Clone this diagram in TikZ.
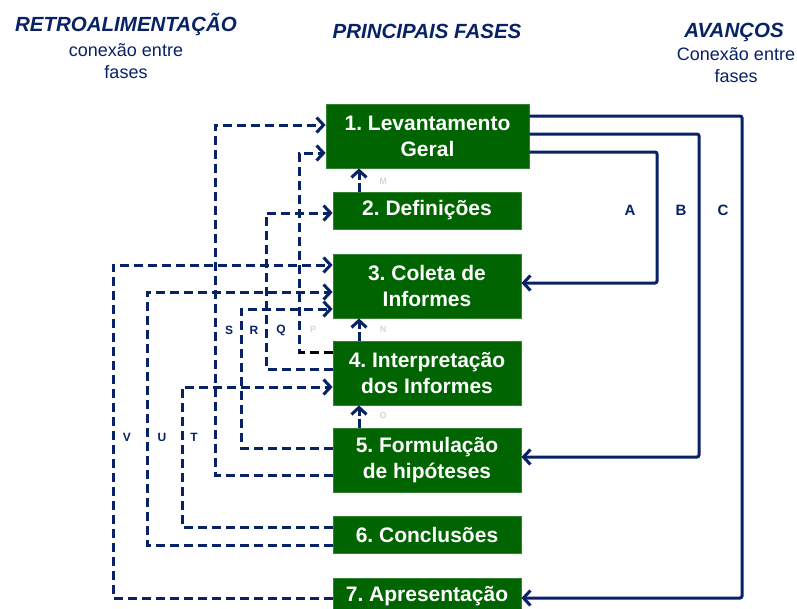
\documentclass[tikz,border=0pt]{standalone}
\usepackage{fontspec}
\setmainfont{Liberation Sans}
\usetikzlibrary{arrows.meta}
\definecolor{navy}{RGB}{8,34,102}
\definecolor{dgreen}{RGB}{0,100,0}
\frenchspacing
\begin{document}
\begin{tikzpicture}[x=1pt,y=-1pt,
  >={Straight Barb[length=7pt,width=15pt]},
  box/.style={fill=dgreen, draw=dgreen!80!white, line width=0.8pt, text=white,
    font=\fontsize{21}{26}\selectfont\bfseries, align=center, inner sep=0pt,
    minimum width=188pt, minimum height=#1},
  fb/.style={navy, line width=3pt, dash pattern=on 9pt off 5pt, ->},
  fw/.style={navy, line width=3pt, rounded corners=2pt, ->},
  up/.style={navy, line width=3pt, dash pattern=on 9pt off 3pt, ->},
  lab/.style={navy, font=\fontsize{12}{14}\selectfont\bfseries},
  labb/.style={navy, font=\fontsize{15}{17}\selectfont\bfseries},
  faint/.style={black!16, font=\fontsize{9}{11}\selectfont\bfseries},
  head/.style={navy, font=\fontsize{20.5}{24}\selectfont\bfseries\itshape, anchor=base},
  sub/.style={navy, font=\fontsize{18}{22}\selectfont, anchor=base}
]
\fill[white] (0,0) rectangle (797,608);
\useasboundingbox (0,0) rectangle (797,608);

% headings
\node[head] (h1) at (126,31) {RETROALIMENTAÇÃO};
\node[sub] (h1a) at (126,56) {conexão entre};
\node[sub] (h1b) at (126,78) {fases};
\node[head] (h2) at (427,38) {PRINCIPAIS FASES};
\node[head] (h3) at (734,37) {AVANÇOS};
\node[sub] (h3a) at (736,60) {Conexão entre};
\node[sub] (h3b) at (736,82) {fases};

% boxes
\node[box=64pt, minimum width=203pt] (b1) at (427.5,136) {1. Levantamento\\Geral};
\node[box=37pt] (b2) at (427,210.5) {2. Definições};
\node[box=64pt] (b3) at (427,286) {3. Coleta de\\Informes};
\node[box=64pt] (b4) at (427,373) {4. Interpretação\\dos Informes};
\node[box=64pt] (b5) at (427,460) {5. Formulação\\de hipóteses};
\node[box=37pt] (b6) at (427,534.5) {6. Conclusões};
\node[box=37pt] (b7) at (427,596.5) {7. Apresentação};

% column coordinates
\coordinate (cV) at (113,0);
\coordinate (cU) at (147,0);
\coordinate (cT) at (182,0);
\coordinate (cS) at (215,0);
\coordinate (cR) at (241,0);
\coordinate (cQ) at (266,0);
\coordinate (cP) at (299,0);
\coordinate (cA) at (657,0);
\coordinate (cB) at (699,0);
\coordinate (cC) at (742,0);
\coordinate (cUp) at (359,0);

% end points
\coordinate (e51a) at ([yshift=-15pt]b5.west);
\coordinate (e51b) at ([yshift=11pt]b1.west);
\coordinate (e41a) at ([yshift=21pt]b4.west);
\coordinate (e41b) at ([yshift=-17pt]b1.west);
\coordinate (e42a) at ([yshift=4pt]b4.west);
\coordinate (e42b) at ([yshift=-2.5pt]b2.west);
\coordinate (e73a) at ([yshift=-1.5pt]b7.west);
\coordinate (e73b) at ([yshift=21pt]b3.west);
\coordinate (e63a) at ([yshift=-10.5pt]b6.west);
\coordinate (e63b) at ([yshift=-6pt]b3.west);
\coordinate (e53a) at ([yshift=12pt]b5.west);
\coordinate (e53b) at ([yshift=-23pt]b3.west);
\coordinate (e64a) at ([yshift=7.5pt]b6.west);
\coordinate (e64b) at ([yshift=-14pt]b4.west);

\coordinate (eAa) at ([yshift=-16pt]b1.east);
\coordinate (eAb) at ([yshift=3pt]b3.east);
\coordinate (eBa) at ([yshift=2pt]b1.east);
\coordinate (eBb) at ([yshift=3pt]b5.east);
\coordinate (eCa) at ([yshift=20pt]b1.east);
\coordinate (eCb) at ([yshift=-1.5pt]b7.east);

% feedback (dashed) connectors
\draw[fb] (e73a) -| (cV |- e73b) -- (e73b);
\draw[fb] (e63a) -| (cU |- e63b) -- (e63b);
\draw[fb] (e64a) -| (cT |- e64b) -- (e64b);
\draw[fb] (e51a) -| (cS |- e51b) -- (e51b);
\draw[fb] (e53a) -| (cR |- e53b) -- (e53b);
\draw[fb] (e42a) -| (cQ |- e42b) -- (e42b);
\draw[fb] (e41a) -| (cP |- e41b) -- (e41b);
\draw[black, line width=3pt, dash pattern=on 9pt off 5pt] (e41a) -- (e41a -| cP);

% advance (solid) connectors
\draw[fw] (eAa) -| (cA |- eAb) -- (eAb);
\draw[fw] (eBa) -| (cB |- eBb) -- (eBb);
\draw[fw] (eCa) -| (cC |- eCb) -- (eCb);

% short upward arrows
\draw[up] (cUp |- b2.north) -- (cUp |- b1.south);
\draw[up] (cUp |- b4.north) -- (cUp |- b3.south);
\draw[up] (cUp |- b5.north) -- (cUp |- b4.south);

% labels
\node[labb] (lA) at (630,210) {A};
\node[labb] (lB) at (681,210) {B};
\node[labb] (lC) at (723,210) {C};
\node[lab] (lS) at (229,330) {S};
\node[lab] (lR) at (254,330) {R};
\node[lab] (lQ) at (281,330) {Q};
\node[lab] (lV) at (127,437) {V};
\node[lab] (lU) at (162,437) {U};
\node[lab] (lT) at (194,437) {T};
\node[faint] (lP) at (313,329) {P};
\node[faint] (lM) at (383,181) {M};
\node[faint] (lN) at (383,329) {N};
\node[faint] (lO) at (383,415) {O};
\end{tikzpicture}
\end{document}
